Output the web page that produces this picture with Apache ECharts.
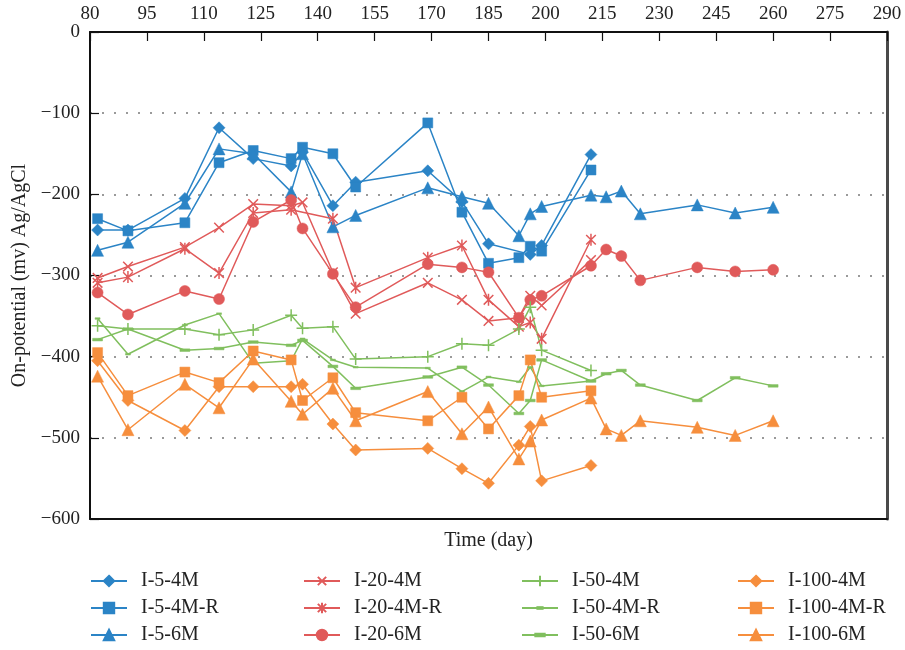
<!DOCTYPE html>
<html>
<head>
<meta charset="utf-8">
<title>On-potential vs time</title>
<script src="https://cdn.jsdelivr.net/npm/echarts@6/dist/echarts.min.js"></script>
<style>
  html, body { margin: 0; padding: 0; background: #fff; }
  #chart { width: 905px; height: 650px; }
</style>
</head>
<body>
<div id="chart"></div>
<script>
// Measurement days shared by all specimens; the 6M specimens were followed longer
const days = [82, 90, 105, 114, 123, 133, 136, 144, 150, 169, 178, 185, 193, 196, 199, 212];
const daysLong = [216, 220, 225, 240, 250, 260];

// Axis ticks
const xTicks = [80, 95, 110, 125, 140, 155, 170, 185, 200, 215, 230, 245, 260, 275, 290];
const yTicks = [0, -100, -200, -300, -400, -500, -600];

// On-potential readings (mV vs Ag/AgCl); null = no reading that day
const i5_4M    = [-244, -244, -205, -118, -156, -165, -148, -214, -185, -171, -209, -261, null, -274, -263, -151];
const i5_4MR   = [-230, -245, -235, -161, -146, -156, -142, -150, -191, -112, -222, -285, -278, -264, -270, -170];
const i5_6M    = [-269, -259, -211, -144, -150, -197, -150, -240, -226, -192, -203, -211, -251, -224, -215, -201];
const i5_6M_l  = [-203, -196, -224, -213, -223, -216];

const i20_4M   = [-303, -289, -265, -241, -212, -214, -210, -296, -347, -309, -330, -356, -352, -325, -337, -281];
const i20_4MR  = [-309, -302, -267, -297, -223, -219, null, -230, -315, -278, -263, -330, -363, -358, -378, -256];
const i20_6M   = [-321, -348, -319, -329, -234, -207, -242, -298, -339, -286, -290, -296, -352, -330, -325, -288];
const i20_6M_l = [-268, -276, -306, -290, -295, -293];

const i50_4M   = [-362, -366, -366, -373, -367, -349, -365, -363, -403, -400, -384, -386, -366, -339, -392, -417];
const i50_4MR  = [-353, -397, -361, -347, -408, -405, -378, -404, -413, -414, -443, -425, -431, -413, -436, -430];
const i50_6M   = [-379, -366, -392, -390, -382, -386, -380, -412, -439, -425, -413, -435, -470, -454, -404, -430];
const i50_6M_l = [-421, -417, -435, -454, -426, -436];

const i100_4M   = [-405, -454, -491, -437, -437, -437, -434, -483, -515, -513, -538, -556, -509, -486, -553, -534];
const i100_4MR  = [-395, -448, -419, -432, -393, -404, -454, -426, -469, -479, -450, -489, -448, -404, -450, -442];
const i100_6M   = [-424, -490, -434, -463, -403, -455, -471, -439, -479, -443, -495, -462, -526, -504, -478, -451];
const i100_6M_l = [-489, -497, -479, -487, -497, -479];

const FONT = 'Liberation Serif';
const BLUE = '#2b84c6', RED = '#e05a5a', GREEN = '#80bf5e', ORANGE = '#f68e3d';

// Marker shapes
const SYM = {
  cross: 'path://M0,0M1,1L9,9M9,1L1,9M10,10',
  star: 'path://M0,0M1,1L9,9M9,1L1,9M5,0L5,10M10,10',
  plus: 'path://M5,0L5,10M0,5L10,5',
  dashS: 'path://M0,0M2.5,4.2L7.5,4.2L7.5,5.8L2.5,5.8ZM10,10',
  dashL: 'path://M0,0M0.5,3.8L9.5,3.8L9.5,6.2L0.5,6.2ZM10,10'
};

function pairs(xs, ys) {
  const out = [];
  for (let i = 0; i < xs.length; i++) {
    if (ys[i] !== null && ys[i] !== undefined) out.push([xs[i], ys[i]]);
  }
  return out;
}

function line(name, xs, ys, color, symbol, size, stroke) {
  return {
    name: name,
    type: 'line',
    data: pairs(xs, ys),
    symbol: symbol,
    symbolSize: size,
    showAllSymbol: true,
    connectNulls: true,
    lineStyle: { color: color, width: 1.5 },
    itemStyle: { color: color, borderColor: color, borderWidth: stroke || 0.5 },
    emphasis: { disabled: true },
    animation: false
  };
}

const longDays = days.concat(daysLong);

const series = [
  line('I-5-4M',     days, i5_4M,  BLUE, 'diamond', 12),
  line('I-5-4M-R',   days, i5_4MR, BLUE, 'rect', 10),
  line('I-5-6M',     longDays, i5_6M.concat(i5_6M_l), BLUE, 'triangle', 12),
  line('I-20-4M',    days, i20_4M,  RED, SYM.cross, 12, 1.5),
  line('I-20-4M-R',  days, i20_4MR, RED, SYM.star, 12, 1.5),
  line('I-20-6M',    longDays, i20_6M.concat(i20_6M_l), RED, 'circle', 11),
  line('I-50-4M',    days, i50_4M,  GREEN, SYM.plus, 12, 1.5),
  line('I-50-4M-R',  days, i50_4MR, GREEN, SYM.dashS, 10, 0.5),
  line('I-50-6M',    longDays, i50_6M.concat(i50_6M_l), GREEN, SYM.dashL, 11, 0.5),
  line('I-100-4M',   days, i100_4M,  ORANGE, 'diamond', 12),
  line('I-100-4M-R', days, i100_4MR, ORANGE, 'rect', 10),
  line('I-100-6M',   longDays, i100_6M.concat(i100_6M_l), ORANGE, 'triangle', 12)
];

// Legend: four columns of three entries, rows 27px apart
const legendCols = [90, 303, 521, 737];
const legends = legendCols.map(function (left, c) {
  return {
    orient: 'vertical',
    left: left,
    top: 571,
    width: 180,
    height: 90,
    padding: 0,
    itemWidth: 36,
    itemHeight: 13,
    itemGap: 7,
    selectedMode: false,
    textStyle: { fontFamily: FONT, fontSize: 20, lineHeight: 20, color: '#222', padding: [0, 0, 0, 9] },
    data: series.slice(c * 3, c * 3 + 3).map(function (s) { return s.name; })
  };
});

const labelStyle = { fontFamily: FONT, fontSize: 19, color: '#222' };

const option = {
  backgroundColor: '#fff',
  animation: false,
  grid: { left: 90, right: 18, top: 32, bottom: 131, containLabel: false },
  legend: legends,
  xAxis: [
    {
      type: 'value',
      position: 'top',
      min: xTicks[0],
      max: xTicks[xTicks.length - 1],
      interval: 15,
      axisLine: { show: true, onZero: false, lineStyle: { color: '#111', width: 2 } },
      axisTick: { show: true, inside: true, length: 9, lineStyle: { color: '#111', width: 1.2 },
                  customValues: xTicks },
      axisLabel: Object.assign({ margin: 8, customValues: xTicks }, labelStyle),
      splitLine: { show: false }
    },
    {
      type: 'value',
      position: 'bottom',
      min: xTicks[0],
      max: xTicks[xTicks.length - 1],
      name: 'Time (day)',
      nameLocation: 'middle',
      nameGap: 12,
      nameTextStyle: { fontFamily: FONT, fontSize: 20, color: '#222' },
      axisLine: { show: true, onZero: false, lineStyle: { color: '#111', width: 2 } },
      axisTick: { show: false },
      axisLabel: { show: false },
      splitLine: { show: false }
    }
  ],
  yAxis: [
    {
      type: 'value',
      position: 'left',
      min: yTicks[yTicks.length - 1],
      max: yTicks[0],
      interval: 100,
      name: 'On-potential (mv) Ag/AgCl',
      nameLocation: 'middle',
      nameGap: 58,
      nameRotate: 90,
      nameTextStyle: { fontFamily: FONT, fontSize: 20, color: '#222' },
      axisLine: { show: true, onZero: false, lineStyle: { color: '#111', width: 2 } },
      axisTick: { show: true, inside: true, length: 9, lineStyle: { color: '#111', width: 1.2 } },
      axisLabel: Object.assign({
        margin: 10,
        formatter: function (v) { return v < 0 ? '\u2212' + Math.abs(v) : String(v); }
      }, labelStyle),
      splitLine: { show: true, lineStyle: { color: '#9a9a9a', width: 2, type: [2, 10] } }
    },
    {
      type: 'value',
      position: 'right',
      min: yTicks[yTicks.length - 1],
      max: yTicks[0],
      axisLine: { show: true, onZero: false, lineStyle: { color: '#4a4a4a', width: 3 } },
      axisTick: { show: false },
      axisLabel: { show: false },
      splitLine: { show: false }
    }
  ],
  series: series
};

const chart = echarts.init(document.getElementById('chart'), null, { renderer: 'canvas' });
chart.setOption(option);
</script>
</body>
</html>
